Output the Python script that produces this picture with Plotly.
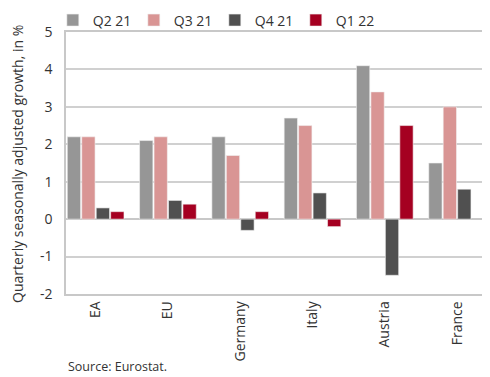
import plotly.graph_objects as go

categories = ["EA", "EU", "Germany", "Italy", "Austria", "France"]
series_names = ["Q2 21", "Q3 21", "Q4 21", "Q1 22"]
q2_21 = [2.2, 2.1, 2.2, 2.7, 4.1, 1.5]
q3_21 = [2.2, 2.2, 1.7, 2.5, 3.4, 3.0]
q4_21 = [0.3, 0.5, -0.3, 0.7, -1.5, 0.8]
q1_22 = [0.2, 0.4, 0.2, -0.2, 2.5, None]
y_ticks = [-2, -1, 0, 1, 2, 3, 4, 5]
y_tick_labels = ["-2", "-1", "0", "1", "2", "3", "4", "5"]
colors = ["#969696", "#d99594", "#505050", "#a50021"]

fig = go.Figure()
for name, vals, col in zip(series_names, [q2_21, q3_21, q4_21, q1_22], colors):
    fig.add_trace(go.Bar(x=categories, y=vals, name=name,
                         marker=dict(color=col, line=dict(color="#f2f2f2", width=0.6))))

font = "Open Sans"
fig.update_layout(
    width=482, height=369,
    margin=dict(l=58, r=4, t=24, b=83, autoexpand=False),
    paper_bgcolor="white", plot_bgcolor="white",
    barmode="group", bargap=0.2, bargroupgap=0.08,
    font=dict(family=font, size=14, color="#333333"),
    showlegend=True,
    legend=dict(orientation="h", x=0.093, xref="container", y=1.105, yref="paper",
                yanchor="top", xanchor="left", font=dict(size=14), itemwidth=30,
                traceorder="normal", entrywidth=36, entrywidthmode="pixels",
                bgcolor="rgba(0,0,0,0)"),
    xaxis=dict(range=[-0.41, 5.40], tickangle=-90, showgrid=False,
               ticks="", showline=True, linecolor="#c8c8c8", mirror=True,
               linewidth=1.5, tickfont=dict(size=14)),
    yaxis=dict(range=[-2, 5], tickvals=y_ticks, ticktext=y_tick_labels,
               showgrid=True, gridcolor="#d0d0d0",
               gridwidth=1.5, zeroline=True, zerolinecolor="#c8c8c8", zerolinewidth=1.5,
               showline=True, linecolor="#c8c8c8", mirror=True, linewidth=1.5,
               ticks="outside", ticklen=9, tickcolor="rgba(0,0,0,0)",
               tickfont=dict(size=14)),
    annotations=[
        dict(text="Quarterly seasonally adjusted growth, in %", xref="paper", yref="paper",
             x=-0.117, y=0.496, xanchor="center", yanchor="middle", textangle=-90,
             showarrow=False, font=dict(size=14, color="#333333")),
        dict(text="Source: Eurostat.", xref="paper", yref="paper",
             x=0.0, y=-0.275, xanchor="left", yanchor="middle",
             showarrow=False, font=dict(size=12.5, color="#333333")),
    ],
)
fig.write_html("out.html")
